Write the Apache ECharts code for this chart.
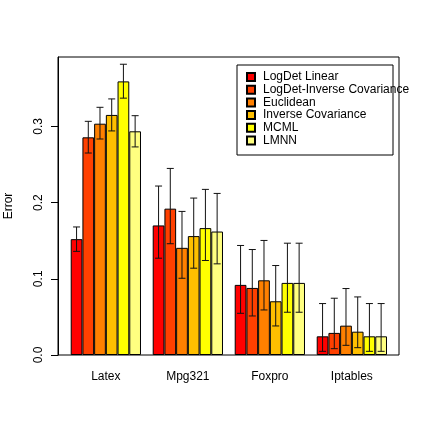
<!DOCTYPE html>
<html>
<head>
<meta charset="utf-8">
<script src="https://cdn.jsdelivr.net/npm/echarts@6/dist/echarts.min.js"></script>
<style>
  html, body { margin: 0; padding: 0; background: #fff; }
  #chart { width: 429px; height: 427px; }
</style>
</head>
<body>
<div id="chart"></div>
<script>
const categories = ['Latex', 'Mpg321', 'Foxpro', 'Iptables']
const methods = ['LogDet Linear', 'LogDet-Inverse Covariance', 'Euclidean', 'Inverse Covariance', 'MCML', 'LMNN']
const colors = ['#FF0000', '#FF4000', '#FF8000', '#FFBF00', '#FFFF00', '#FFFF80']

// mean error per method, one value per category
const meanLogDetLinear = [0.152, 0.170, 0.092, 0.0245]
const meanLogDetInvCov = [0.2856, 0.192, 0.088, 0.029]
const meanEuclidean = [0.3035, 0.1406, 0.098, 0.0385]
const meanInvCov = [0.315, 0.156, 0.0705, 0.0306]
const meanMCML = [0.359, 0.1665, 0.0946, 0.0245]
const meanLMNN = [0.2935, 0.162, 0.0946, 0.0245]

const lowLogDetLinear = [0.136, 0.127, 0.0547, 0.0048]
const lowLogDetInvCov = [0.265, 0.146, 0.0512, 0.0083]
const lowEuclidean = [0.2834, 0.1007, 0.0591, 0.0127]
const lowInvCov = [0.294, 0.1139, 0.0381, 0.0096]
const lowMCML = [0.337, 0.124, 0.0561, 0.0048]
const lowLMNN = [0.273, 0.1196, 0.0561, 0.0048]

const highLogDetLinear = [0.168, 0.2217, 0.1437, 0.0675]
const highLogDetInvCov = [0.3066, 0.2448, 0.1384, 0.0745]
const highEuclidean = [0.325, 0.1884, 0.1503, 0.0872]
const highInvCov = [0.336, 0.2059, 0.1174, 0.0762]
const highMCML = [0.3815, 0.2173, 0.1467, 0.0675]
const highLMNN = [0.314, 0.212, 0.1467, 0.0675]

const yTicks = ['0.0', '0.1', '0.2', '0.3']

const means = [meanLogDetLinear, meanLogDetInvCov, meanEuclidean, meanInvCov, meanMCML, meanLMNN]
const lows = [lowLogDetLinear, lowLogDetInvCov, lowEuclidean, lowInvCov, lowMCML, lowLMNN]
const highs = [highLogDetLinear, highLogDetInvCov, highEuclidean, highInvCov, highMCML, highLMNN]

const font = 'Liberation Sans, Arial, sans-serif'
const yMax = 0.391
const catGap = 0.143

const barSeries = methods.map((name, i) => ({
  name,
  type: 'bar',
  xAxisIndex: 0,
  yAxisIndex: 0,
  barGap: 0,
  barCategoryGap: (catGap * 100) + '%',
  data: means[i],
  itemStyle: { color: colors[i], borderColor: '#000', borderWidth: 1 },
  emphasis: { disabled: true },
  z: 2,
}))

const errData = []
methods.forEach((m, i) => {
  categories.forEach((c, j) => {
    errData.push([j, lows[i][j], highs[i][j], i])
  })
})

const errSeries = {
  type: 'custom',
  xAxisIndex: 0,
  yAxisIndex: 0,
  z: 5,
  silent: true,
  data: errData,
  renderItem(params, api) {
    const cat = api.value(0)
    const k = api.value(3)
    const lowPt = api.coord([cat, api.value(1)])
    const highPt = api.coord([cat, api.value(2)])
    const bw = api.size([1, 0])[0] * (1 - catGap) / methods.length
    const x = lowPt[0] + (k - (methods.length - 1) / 2) * bw
    const cap = 3.5
    const style = { stroke: '#111', lineWidth: 1, fill: null }
    return {
      type: 'group',
      children: [
        { type: 'line', shape: { x1: x, y1: lowPt[1], x2: x, y2: highPt[1] }, style },
        { type: 'line', shape: { x1: x - cap, y1: highPt[1], x2: x + cap, y2: highPt[1] }, style },
        { type: 'line', shape: { x1: x - cap, y1: lowPt[1], x2: x + cap, y2: lowPt[1] }, style },
      ],
    }
  },
}

const chart = echarts.init(document.getElementById('chart'), null, { renderer: 'canvas' })
chart.setOption({
  animation: false,
  backgroundColor: '#fff',
  textStyle: { fontFamily: font },
  grid: [
    { left: 64.85, top: 57, width: 328, height: 298, outerBoundsMode: 'none', containLabel: false },
    {
      left: 58, top: 57, width: 341, height: 298, outerBoundsMode: 'none', containLabel: false,
      show: true, borderColor: '#000', borderWidth: 1, backgroundColor: 'transparent',
    },
  ],
  xAxis: [
    {
      type: 'category',
      gridIndex: 0,
      data: categories,
      axisLine: { show: false },
      axisTick: { show: false },
      axisLabel: { color: '#000', fontSize: 12, fontFamily: font, margin: 16 },
    },
    { type: 'value', gridIndex: 1, show: false },
  ],
  yAxis: [
    { type: 'value', gridIndex: 0, min: 0, max: yMax, show: false },
    {
      type: 'value',
      gridIndex: 1,
      min: 0,
      max: yMax,
      interval: 0.1,
      name: 'Error',
      nameLocation: 'middle',
      nameRotate: 90,
      nameGap: 43,
      nameTextStyle: { color: '#000', fontSize: 12, fontFamily: font },
      axisLine: { show: true, lineStyle: { color: '#000', width: 1 } },
      axisTick: { show: true, length: 7, lineStyle: { color: '#000' } },
      splitLine: { show: false },
      axisLabel: {
        color: '#000',
        fontSize: 12,
        fontFamily: font,
        rotate: 90,
        margin: 13,
        showMaxLabel: false,
        formatter: (v) => yTicks[Math.round(v * 10)] ?? '',
      },
    },
  ],
  legend: {
    orient: 'vertical',
    left: 246,
    top: 71,
    padding: 0,
    icon: 'rect',
    itemWidth: 8,
    itemHeight: 8,
    itemGap: 0.7,
    selectedMode: false,
    data: methods,
    textStyle: { color: '#000', fontSize: 12, fontFamily: font, lineHeight: 12, padding: [0, 0, 0, 3] },
  },
  graphic: [
    {
      type: 'rect',
      left: 236.5,
      top: 64.5,
      shape: { width: 156, height: 90 },
      style: { fill: 'transparent', stroke: '#000', lineWidth: 1 },
      silent: true,
    },
  ],
  series: [...barSeries, errSeries],
})
</script>
</body>
</html>
